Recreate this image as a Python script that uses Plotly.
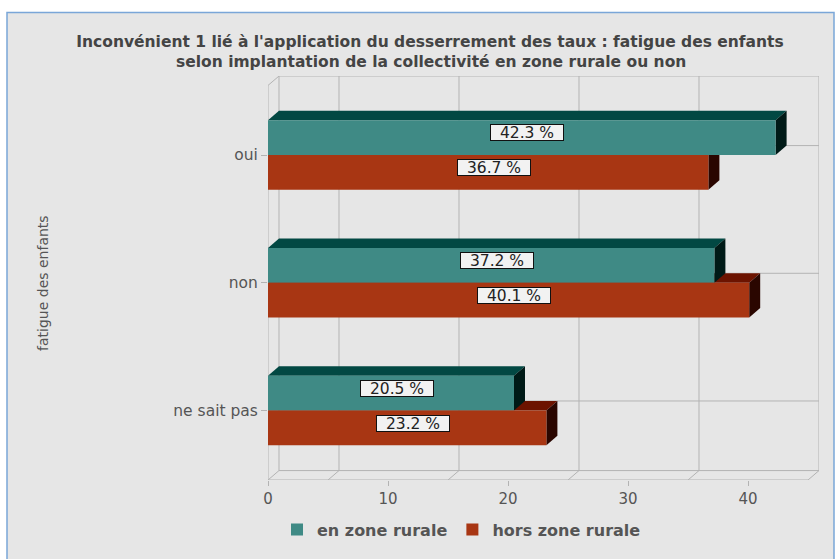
import plotly.graph_objects as go

# ---------------- data ----------------
categories = ["oui", "non", "ne sait pas"]
rural = [42.3, 37.2, 20.5]
non_rural = [36.7, 40.1, 23.2]
series_names = ["en zone rurale", "hors zone rurale"]
x_ticks = [0, 10, 20, 30, 40]
grid_vals = [5, 15, 25, 35]
x_max = 45

title_line1 = "Inconvénient 1 lié à l'application du desserrement des taux : fatigue des enfants"
title_line2 = "selon implantation de la collectivité en zone rurale ou non"
y_title = "fatigue des enfants"

# ---------------- style ----------------
FRONT = ["#3f8a85", "#a83613"]
TOP = ["#024843", "#6c1300"]
SIDE = ["#001a17", "#2a0600"]
GRID = "#b3b3b3"
BG = "#e6e6e6"
TXT = "#555555"
FONT = "DejaVu Sans"

W, H = 835, 559
L, R, T, B = 268, 16, 76, 76
plot_w = W - L - R
plot_h = H - T - B
DX_PX, DY_PX = 11, 9.5
px_per_x = 12.0
x_range_max = plot_w / px_per_x
dx = DX_PX / px_per_x

front_top, front_bot = -0.545, 2.545
px_per_y = (plot_h - DY_PX) / (front_bot - front_top)
dy = DY_PX / px_per_y
back_top = front_top - dy
back_bot = front_bot - dy
bw = 35 / px_per_y

idx = list(range(len(categories)))
series = [rural, non_rural]
offsets = [-bw, 0.0]


def px_x(p):
    return (p - L) / plot_w


def px_y(p):
    return (T + plot_h - p) / plot_h


fig = go.Figure()
for s, vals in enumerate(series):
    fig.add_trace(go.Bar(
        orientation="h", x=vals, y=idx, width=bw, offset=offsets[s],
        name=series_names[s], marker=dict(color=FRONT[s], line=dict(width=0)),
        hoverinfo="x+name",
    ))

shapes = []


def line(x0, y0, x1, y1):
    return dict(type="line", x0=x0, y0=y0, x1=x1, y1=y1, xref="x", yref="y",
                line=dict(color=GRID, width=1), layer="below")


# outer panel
shapes.append(dict(type="rect", xref="paper", yref="paper",
                   x0=px_x(7), x1=px_x(834), y0=px_y(566), y1=px_y(12),
                   fillcolor=BG, line=dict(color="#7aa6d8", width=1.5), layer="below"))
# back wall frame & gridlines
shapes.append(line(dx, back_top, x_max + dx, back_top))
shapes.append(line(dx, back_top, dx, back_bot))
shapes.append(line(x_max + dx, back_top, x_max + dx, back_bot))
for g in grid_vals:
    shapes.append(line(g + dx, back_top, g + dx, back_bot))
    shapes.append(line(g, front_bot, g + dx, back_bot))
for i in idx:
    shapes.append(line(dx, i - dy, x_max + dx, i - dy))
# floor
shapes.append(line(dx, back_bot, x_max + dx, back_bot))
shapes.append(line(0, front_bot, x_max, front_bot))
shapes.append(line(0, front_bot, dx, back_bot))
shapes.append(line(x_max, front_bot, x_max + dx, back_bot))
# left wall
shapes.append(line(0, front_top, 0, front_bot))
shapes.append(line(0, front_top, dx, back_top))

# 3D faces: second series first so the first series' faces overlap it
for s in [1, 0]:
    for i, v in zip(idx, series[s]):
        yt = i + offsets[s]
        yb = yt + bw
        top = f"M 0,{yt} L {v},{yt} L {v + dx},{yt - dy} L {dx},{yt - dy} Z"
        side = f"M {v},{yt} L {v + dx},{yt - dy} L {v + dx},{yb - dy} L {v},{yb} Z"
        shapes.append(dict(type="path", path=top, xref="x", yref="y",
                           fillcolor=TOP[s], line=dict(width=0), layer="below"))
        shapes.append(dict(type="path", path=side, xref="x", yref="y",
                           fillcolor=SIDE[s], line=dict(width=0), layer="below"))

annotations = []
for s, vals in enumerate(series):
    for i, v in zip(idx, vals):
        yc = i + offsets[s] + bw / 2 - dy / 2
        annotations.append(dict(
            x=v / 2 + dx / 2, y=yc, xref="x", yref="y", text=f"{v} %",
            showarrow=False, font=dict(family=FONT, size=15.5, color="#222222"),
            bgcolor="#f2f2f2", bordercolor="#111111", borderwidth=1, borderpad=0,
            width=72, height=15, align="center", valign="middle",
        ))
annotations.append(dict(
    x=px_x(43.5), y=px_y(285), xref="paper", yref="paper",
    xanchor="center", yanchor="middle",
    text=y_title, textangle=-90, showarrow=False,
    font=dict(family=FONT, size=14, color=TXT),
))
annotations.append(dict(
    x=px_x(431), y=px_y(61.5), xref="paper", yref="paper",
    text=title_line2, showarrow=False, xanchor="center", yanchor="middle",
    font=dict(family=FONT, size=15.5, color="#444444", weight="bold"),
))

fig.update_layout(
    width=W, height=H,
    margin=dict(l=L, r=R, t=T, b=B),
    paper_bgcolor="white", plot_bgcolor="rgba(0,0,0,0)",
    title=dict(text=title_line1, x=430 / W, xanchor="center", xref="container",
               y=1 - 42 / H, yanchor="middle", yref="container",
               font=dict(family=FONT, size=15.5, color="#444444", weight="bold")),
    xaxis=dict(range=[0, x_range_max], tickvals=x_ticks, ticks="outside", ticklen=5,
               tickcolor=GRID, showgrid=False, zeroline=False, showline=False,
               tickfont=dict(family=FONT, size=15, color=TXT), fixedrange=True),
    yaxis=dict(range=[front_bot, back_top], tickvals=idx, ticktext=categories,
               ticks="outside", ticklen=6, tickcolor=GRID, showgrid=False,
               zeroline=False, showline=False,
               tickfont=dict(family=FONT, size=15.5, color=TXT), fixedrange=True),
    barmode="overlay",
    showlegend=True,
    legend=dict(orientation="h", x=px_x(277), xanchor="left",
                y=px_y(533), yanchor="middle",
                font=dict(family=FONT, size=16, color=TXT, weight="bold"),
                bgcolor="rgba(0,0,0,0)", traceorder="normal"),
    shapes=shapes, annotations=annotations,
)

fig.write_html("out.html", config={"displayModeBar": False},
               post_script="document.body.style.margin='0';")
